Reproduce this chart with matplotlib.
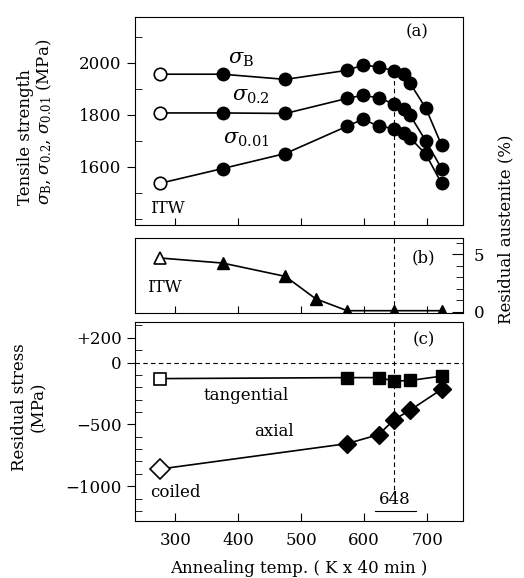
import matplotlib
matplotlib.use("Agg")
import matplotlib.pyplot as plt
from matplotlib.ticker import MultipleLocator, FixedLocator

plt.rcParams['font.family'] = ['DejaVu Serif']
plt.rcParams['mathtext.fontset'] = 'dejavuserif'

# ---- data ----
temp_a = [275, 375, 475, 573, 598, 623, 648, 663, 673, 698, 723]
sigma_B = [1955, 1955, 1935, 1970, 1990, 1983, 1968, 1955, 1920, 1824, 1682]
sigma_02 = [1806, 1806, 1804, 1862, 1874, 1864, 1840, 1823, 1797, 1698, 1592]
sigma_001 = [1535, 1592, 1650, 1755, 1782, 1755, 1746, 1727, 1710, 1647, 1535]

temp_b = [275, 375, 475, 523, 573, 648, 723]
austenite = [4.67, 4.23, 3.07, 1.13, 0.1, 0.1, 0.1]

temp_c = [275, 573, 623, 648, 673, 723]
tangential = [-130, -122, -122, -150, -145, -110]
axial = [-862, -656, -583, -461, -385, -217]

xlim = (236, 757)
xticks = [300, 400, 500, 600, 700]

fig = plt.figure(figsize=(5.24, 5.78), dpi=100)
W, H = 524, 578
L, R = 135 / W, 463 / W

def box(top, bot):
    return [L, 1 - bot / H, R - L, (bot - top) / H]

axa = fig.add_axes(box(17, 225))
axb = fig.add_axes(box(238, 313))
axc = fig.add_axes(box(322, 521))

lw = 1.2
ms = 9
fs = 12

# ---------- panel (a) ----------
for ys in (sigma_B, sigma_02, sigma_001):
    axa.plot(temp_a, ys, color='black', lw=lw, zorder=2)
    axa.plot(temp_a[1:], ys[1:], 'o', color='black', ms=ms, zorder=3)
    axa.plot(temp_a[:1], ys[:1], 'o', mfc='white', mec='black', mew=1.2, ms=ms, zorder=3)
axa.set_xlim(*xlim)
axa.set_ylim(1375, 2175)
axa.yaxis.set_major_locator(FixedLocator([1600, 1800, 2000]))
axa.yaxis.set_minor_locator(MultipleLocator(100))
axa.set_xticks(xticks)
axa.tick_params(axis='x', direction='in', length=5, labelbottom=False)
axa.tick_params(axis='y', which='major', direction='out', length=6, labelsize=fs)
axa.tick_params(axis='y', which='minor', direction='in', length=5)
axa.plot([648, 648], [1375, 1950], ls=(0, (4, 3)), color='black', lw=0.8)
axa.text(0.86, 0.93, '(a)', transform=axa.transAxes, fontsize=fs, ha='center', va='center')
axa.text(405, 2012, r'$\sigma_{\rm B}$', fontsize=15, ha='center', va='center')
axa.text(420, 1868, r'$\sigma_{0.2}$', fontsize=15, ha='center', va='center')
axa.text(412, 1703, r'$\sigma_{0.01}$', fontsize=15, ha='center', va='center')
axa.text(287, 1440, 'ITW', fontsize=fs, ha='center', va='center')

# ---------- panel (b) ----------
axb.plot(temp_b, austenite, color='black', lw=lw, zorder=2)
axb.plot(temp_b[1:], austenite[1:], '^', color='black', ms=ms, zorder=3)
axb.plot(temp_b[:1], austenite[:1], '^', mfc='white', mec='black', mew=1.2, ms=ms, zorder=3)
axb.set_xlim(*xlim)
axb.set_ylim(-0.1, 6.4)
axb.set_xticks(xticks)
axb.tick_params(axis='x', direction='in', length=5, labelbottom=False)
axb.yaxis.tick_right()
axb.yaxis.set_label_position('right')
axb.yaxis.set_major_locator(FixedLocator([0, 5]))
axb.yaxis.set_minor_locator(MultipleLocator(1))
axb.tick_params(axis='y', which='major', direction='in', length=8, labelsize=fs, pad=8)
axb.tick_params(axis='y', which='minor', direction='in', length=5)
axb.axvline(648, ls=(0, (4, 3)), color='black', lw=0.8)
axb.text(0.88, 0.73, '(b)', transform=axb.transAxes, fontsize=fs, ha='center', va='center')
axb.text(283, 2.1, 'ITW', fontsize=fs, ha='center', va='center')

# ---------- panel (c) ----------
axc.plot(temp_c, tangential, color='black', lw=lw, zorder=2)
axc.plot(temp_c[1:], tangential[1:], 's', color='black', ms=ms, zorder=3)
axc.plot(temp_c[:1], tangential[:1], 's', mfc='white', mec='black', mew=1.2, ms=ms, zorder=3)
axc.plot(temp_c, axial, color='black', lw=lw, zorder=2)
axc.plot(temp_c[1:], axial[1:], 'D', color='black', ms=ms, zorder=3)
axc.plot(temp_c[:1], axial[:1], 'D', mfc='white', mec='black', mew=1.2, ms=ms + 1, zorder=3)
axc.set_xlim(*xlim)
axc.set_ylim(-1282, 328)
axc.set_xticks(xticks)
axc.tick_params(axis='x', direction='in', length=6, labelsize=fs, pad=8)
axc.yaxis.set_major_locator(FixedLocator([200, 0, -500, -1000]))
axc.set_yticklabels(['+200', '0', '\u2212500', '\u22121000'])
axc.yaxis.set_minor_locator(MultipleLocator(100))
axc.tick_params(axis='y', which='major', direction='out', length=6, labelsize=fs)
axc.tick_params(axis='y', which='minor', direction='in', length=5)
axc.axhline(0, ls=(0, (4, 3)), color='black', lw=0.8)
axc.plot([648, 648], [328, -1060], ls=(0, (4, 3)), color='black', lw=0.8)
axc.text(0.88, 0.91, '(c)', transform=axc.transAxes, fontsize=fs, ha='center', va='center')
axc.text(413, -266, 'tangential', fontsize=fs, ha='center', va='center')
axc.text(456, -559, 'axial', fontsize=fs, ha='center', va='center')
axc.text(300, -1054, 'coiled', fontsize=fs, ha='center', va='center')
axc.text(649, -1111, '648', fontsize=fs, ha='center', va='center')
axc.plot([618, 682], [-1200, -1200], color='black', lw=0.8)
axc.set_xlabel('Annealing temp. ( K x 40 min )', fontsize=fs, labelpad=8)

# ---------- axis labels ----------
fig.text(25 / W, 1 - 205 / H, 'Tensile strength', rotation=90, rotation_mode='anchor',
         ha='left', va='center', fontsize=fs)
fig.text(44 / W, 1 - 205 / H, r'$\sigma_{\rm B}$, $\sigma_{0.2}$, $\sigma_{0.01}$ (MPa)',
         rotation=90, rotation_mode='anchor', ha='left', va='center', fontsize=fs)
fig.text(29 / W, 1 - 407 / H, 'Residual stress\n(MPa)', rotation=90, ha='center',
         va='center', fontsize=fs, multialignment='center', linespacing=1.1)
fig.text(506 / W, 1 - 229 / H, 'Residual austenite (%)', rotation=90, ha='center',
         va='center', fontsize=fs)

fig.savefig('out.png', dpi=100)
